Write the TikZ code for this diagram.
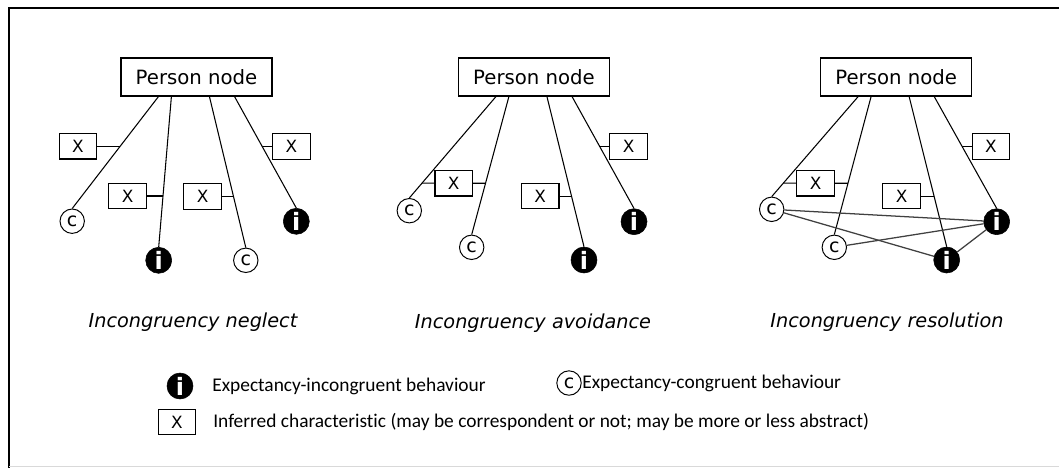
\documentclass[tikz,border=0pt]{standalone}
\usepackage{fontspec}
\setmainfont{DejaVu Sans}[ItalicFont={DejaVu Sans Oblique},BoldFont={DejaVu Sans Bold}]
\newfontfamily\legendfont{Carlito}[Ligatures=NoCommon]
\usetikzlibrary{calc,positioning}

\begin{document}
\begin{tikzpicture}[x=0.025cm, y=-0.025cm,
  person/.style={rectangle, draw, line width=0.8pt, minimum width=3.775cm, minimum height=0.95cm, inner sep=0pt, font=\fontsize{14}{14}\selectfont},
  trait/.style={rectangle, draw, line width=0.8pt, minimum width=0.94cm, minimum height=0.64cm, inner sep=0pt, font=\fontsize{12}{12}\selectfont},
  cong/.style={circle, draw, line width=0.7pt, minimum size=0.61cm, inner sep=0pt, font=\fontsize{13.5}{13.5}\selectfont},
  incong/.style={circle, draw, fill=black, minimum size=0.65cm, inner sep=0pt, text=white, font=\fontsize{17}{17}\selectfont\bfseries},
  link/.style={line width=0.75pt},
  cross/.style={line width=0.9pt, black!75},
  caption/.style={font=\fontsize{13.7}{14}\selectfont\itshape},
  legend/.style={anchor=west, inner sep=0pt, font=\legendfont\fontsize{13.8}{14}\selectfont}]
\useasboundingbox (0,0) rectangle (1059,468);
\draw[line width=2pt] (1059,8) -- (9,8) -- (9,468);
\draw[black!15] (9,466) -- (1059,466);

\node[person] (pn1) at (196.5,77) {Person node};
\coordinate (s11) at ($(pn1.south west)!0.25!(pn1.south east)$);
\coordinate (s12) at ($(pn1.south west)!0.335!(pn1.south east)$);
\coordinate (s13) at ($(pn1.south west)!0.585!(pn1.south east)$);
\coordinate (s14) at ($(pn1.south west)!0.75!(pn1.south east)$);
\node[cong] (c11) at (72.2,221.2) {c};
\node[incong] (i11) at (158.7,260.3) {i};
\node[cong] (c12) at (245.8,260.3) {c};
\node[incong] (i12) at (296.3,221.3) {i};
\draw[link] (s11) -- (c11.north);
\draw[link] (s12) -- (i11.north);
\draw[link] (s13) -- (c12.north);
\draw[link] (s14) -- (i12.north);
\coordinate (m11) at ($(s11)!0.443!(c11.north)$);
\coordinate (m12) at ($(s12)!0.661!(i11.north)$);
\coordinate (m13) at ($(s13)!0.661!(c12.north)$);
\coordinate (m14) at ($(s14)!0.446!(i12.north)$);
\node[trait, left=0.575cm of m11] (x11) {X};
\node[trait, left=0.4cm of m12] (x12) {X};
\node[trait, left=0.285cm of m13] (x13) {X};
\node[trait, right=0.25cm of m14] (x14) {X};
\draw[link] (x11) -- (m11);
\draw[link] (x12) -- (m12);
\draw[link] (x13) -- (m13);
\draw[link] (x14) -- (m14);
\node[caption] (cap1) at (193,322) {Incongruency neglect};

\node[person] (pn2) at (534,77) {Person node};
\coordinate (s21) at ($(pn2.south west)!0.25!(pn2.south east)$);
\coordinate (s22) at ($(pn2.south west)!0.335!(pn2.south east)$);
\coordinate (s23) at ($(pn2.south west)!0.585!(pn2.south east)$);
\coordinate (s24) at ($(pn2.south west)!0.75!(pn2.south east)$);
\node[cong] (c21) at (409.3,210.7) {c};
\node[cong] (c22) at (471.7,247.3) {c};
\node[incong] (i21) at (584,260) {i};
\node[incong] (i22) at (634,221.7) {i};
\draw[link] (s21) -- (c21.north);
\draw[link] (s22) -- (c22.north);
\draw[link] (s23) -- (i21.north);
\draw[link] (s24) -- (i22.north);
\coordinate (m21) at ($(s21)!0.854!(c21.north)$);
\coordinate (m22) at ($(s22)!0.628!(c22.north)$);
\coordinate (m23) at ($(s23)!0.663!(i21.north)$);
\coordinate (m24) at ($(s24)!0.445!(i22.north)$);
\node[trait] (x21) at ($(m21)!0.5!(m22)$) {X};
\node[trait, left=0.3cm of m23] (x22) {X};
\node[trait, right=0.24cm of m24] (x23) {X};
\draw[link] (m21) -- (x21) -- (m22);
\draw[link] (x22) -- (m23);
\draw[link] (x23) -- (m24);
\node[caption] (cap2) at (533,323) {Incongruency avoidance};

\node[person] (pn3) at (896.2,77) {Person node};
\coordinate (s31) at ($(pn3.south west)!0.25!(pn3.south east)$);
\coordinate (s32) at ($(pn3.south west)!0.335!(pn3.south east)$);
\coordinate (s33) at ($(pn3.south west)!0.585!(pn3.south east)$);
\coordinate (s34) at ($(pn3.south west)!0.75!(pn3.south east)$);
\node[cong] (c31) at (771.7,209.3) {c};
\node[cong] (c32) at (834.3,247.3) {c};
\node[incong] (i31) at (946.7,260) {i};
\node[incong] (i32) at (996.7,221.7) {i};
\draw[link] (s31) -- (c31.north);
\draw[link] (s32) -- (c32.north);
\draw[link] (s33) -- (i31.north);
\draw[link] (s34) -- (i32.north);
\coordinate (m31) at ($(s31)!0.866!(c31.north)$);
\coordinate (m32) at ($(s32)!0.628!(c32.north)$);
\coordinate (m33) at ($(s33)!0.663!(i31.north)$);
\coordinate (m34) at ($(s34)!0.445!(i32.north)$);
\node[trait] (x31) at ($(m31)!0.5!(m32)$) {X};
\node[trait, left=0.325cm of m33] (x32) {X};
\node[trait, right=0.24cm of m34] (x33) {X};
\draw[link] (m31) -- (x31) -- (m32);
\draw[link] (x32) -- (m33);
\draw[link] (x33) -- (m34);
\draw[cross] (c31) -- (i32);
\draw[cross] (c31) -- (i31);
\draw[cross] (c32) -- (i32);
\draw[cross] (i31) -- (i32);
\node[caption] (cap3) at (887,322) {Incongruency resolution};

\node[incong] (li) at (180,386) {i};
\node[legend] (lt1) at (212,386) {Expectancy-incongruent behaviour};
\node[cong] (lc) at (569,383) {c};
\node[legend] (lt2) at (582,383) {Expectancy-congruent behaviour};
\node[trait] (lx) at (177,422) {X};
\node[legend] (lt3) at (213,422) {Inferred characteristic (may be correspondent or not; may be more or less abstract)};
\end{tikzpicture}
\end{document}
